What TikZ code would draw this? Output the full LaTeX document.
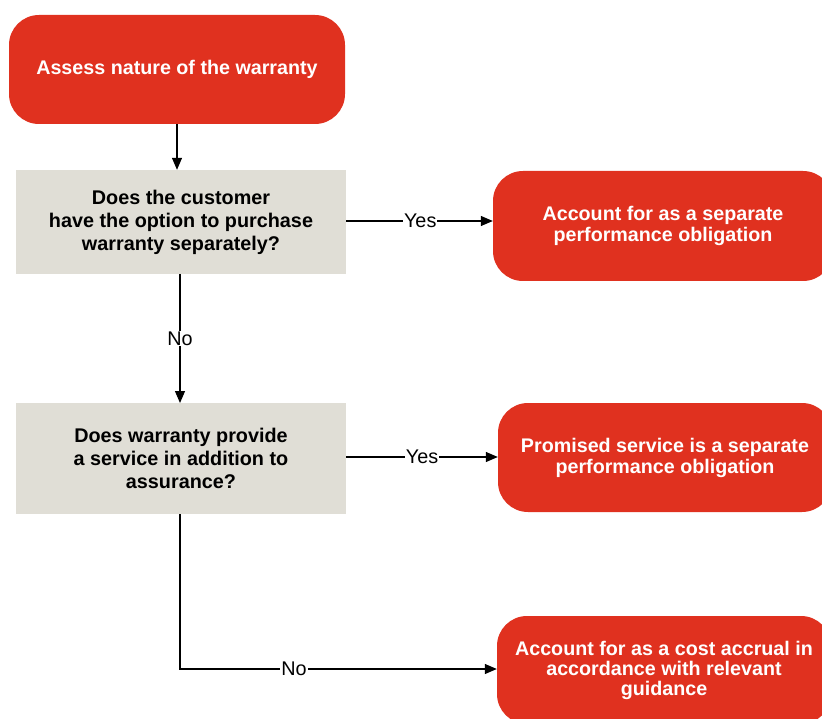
\documentclass[tikz,border=0pt]{standalone}
\usepackage{fontspec}
\setmainfont{Liberation Sans}
\usetikzlibrary{arrows.meta,positioning}
\definecolor{pwcred}{RGB}{224,49,31}
\definecolor{qgray}{RGB}{224,222,214}
\begin{document}
\begin{tikzpicture}[x=1pt,y=-1pt,
  redbox/.style={fill=pwcred,rounded corners=30pt,text=white,align=center,inner sep=0pt,
    font=\fontsize{19.7}{21}\selectfont\bfseries},
  graybox/.style={fill=qgray,align=center,inner sep=0pt,
    font=\fontsize{19.8}{23}\selectfont\bfseries},
  conn/.style={line width=1.2pt,-{Triangle[length=12pt,width=10pt]}},
  lbl/.style={fill=white,inner sep=1pt,font=\fontsize{19.8}{21}\selectfont}]
\useasboundingbox (0,0) rectangle (822,719);
\begin{scope}
\clip (0,0) rectangle (822,719);
\node[redbox,minimum width=336pt,minimum height=109pt] (A) at (177,69.5) {Assess nature of the warranty};
\node[graybox,minimum width=330pt,minimum height=104pt] (B) at (181,222) {Does the customer\\have the option to purchase\\warranty separately?};
\node[redbox,minimum width=340pt,minimum height=110pt] (C) at (663,226) {Account for as a separate\\performance obligation};
\node[graybox,minimum width=330pt,minimum height=111pt] (D) at (181,458.5) {Does warranty provide\\a service in addition to\\assurance?};
\node[redbox,minimum width=334pt,minimum height=109pt] (E) at (665,457.5) {Promised service is a separate\\performance obligation};
\node[redbox,minimum width=334pt,minimum height=108pt,font=\fontsize{19.7}{20}\selectfont\bfseries] (F) at (664,670) {Account for as a cost accrual in\\accordance with relevant\\guidance};
\end{scope}
\coordinate (Bs) at (180,274);
\coordinate (Dn) at (180,403);
\coordinate (Ds) at (180,514);
\coordinate (Fk) at (180,669);
\draw[conn] (A.south) -- (A.south |- B.north);
\draw[conn] (Bs) -- node[lbl,pos=0.5]{No} (Dn);
\draw[conn] (B.east |- 0,221) -- node[lbl,pos=0.505]{Yes} (C.west |- 0,221);
\draw[conn] (D.east |- 0,457) -- node[lbl,pos=0.5]{Yes} (E.west |- 0,457);
\draw[conn] (Ds) -- (Fk) -- node[lbl,pos=0.36]{No} (F.west |- Fk);
\end{tikzpicture}
\end{document}
